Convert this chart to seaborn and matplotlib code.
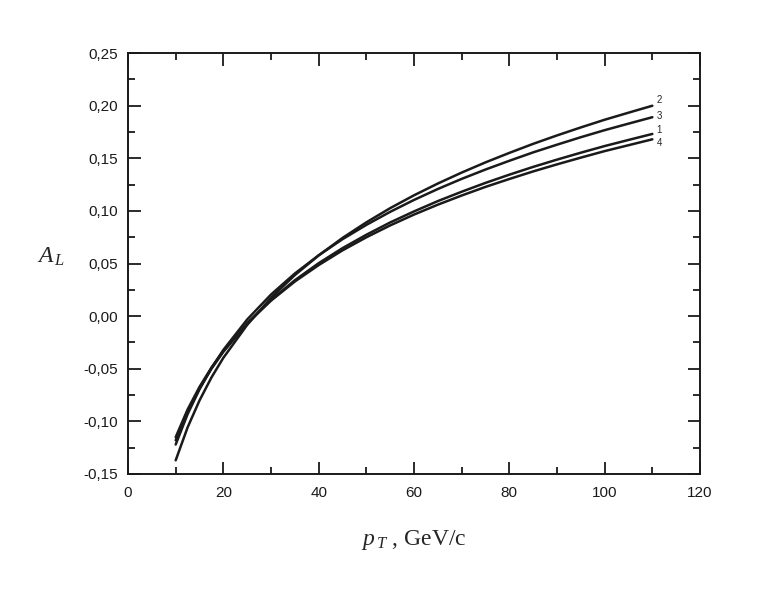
import numpy as np
import pandas as pd
import matplotlib
matplotlib.use("Agg")
import matplotlib.pyplot as plt
from matplotlib.ticker import MultipleLocator, FuncFormatter
import seaborn as sns

# transverse momentum points, GeV/c
pt = [10, 12.5, 15, 17.5, 20, 25, 30, 35, 40, 45, 50, 55, 60, 65, 70, 75, 80, 85, 90, 95, 100, 105, 110]

# asymmetry A_L for the four curves
curve_1 = [-0.118, -0.0909, -0.0688, -0.0500, -0.0339, -0.0068, 0.0154, 0.0341, 0.0503, 0.0646, 0.0773,
           0.0890, 0.0995, 0.1093, 0.1182, 0.1266, 0.1344, 0.1418, 0.1487, 0.1553, 0.1616, 0.1674, 0.1731]
curve_2 = [-0.137, -0.1057, -0.0801, -0.0583, -0.0396, -0.0083, 0.0174, 0.0390, 0.0577, 0.0743, 0.0891,
           0.1026, 0.1148, 0.1260, 0.1364, 0.1461, 0.1551, 0.1637, 0.1717, 0.1793, 0.1866, 0.1933, 0.1999]
curve_3 = [-0.122, -0.0931, -0.0695, -0.0494, -0.0321, -0.0032, 0.0205, 0.0405, 0.0578, 0.0731, 0.0867,
           0.0991, 0.1104, 0.1208, 0.1304, 0.1393, 0.1476, 0.1556, 0.1629, 0.1700, 0.1767, 0.1829, 0.1890]
curve_4 = [-0.115, -0.0887, -0.0672, -0.0489, -0.0332, -0.0069, 0.0147, 0.0329, 0.0485, 0.0625, 0.0749,
           0.0862, 0.0965, 0.1059, 0.1146, 0.1228, 0.1303, 0.1375, 0.1442, 0.1506, 0.1568, 0.1624, 0.1680]

curve_names = ["1", "2", "3", "4"]
label_offsets = {"1": 3, "2": 4, "3": 1, "4": -3}  # points, vertical nudge of end labels

sns.set_style("ticks")
plt.rcParams["font.family"] = ["Liberation Sans", "DejaVu Sans"]
plt.rcParams["mathtext.fontset"] = "custom"
plt.rcParams["mathtext.rm"] = "Liberation Serif"
plt.rcParams["mathtext.it"] = "Liberation Serif:italic"

df = pd.concat([
    pd.DataFrame({"pt": pt, "A": vals, "curve": name})
    for name, vals in zip(curve_names, [curve_1, curve_2, curve_3, curve_4])
])

fig = plt.figure(figsize=(7.58, 5.99), dpi=100)
ax = fig.add_axes([0.1689, 0.2087, 0.9235 - 0.1689, 0.9115 - 0.2087])

sns.lineplot(data=df, x="pt", y="A", hue="curve",
             palette={n: "#1a1a1a" for n in curve_names},
             linewidth=1.8, legend=False, ax=ax)

for name, vals in zip(curve_names, [curve_1, curve_2, curve_3, curve_4]):
    ax.annotate(name, xy=(pt[-1], vals[-1]), xytext=(3, label_offsets[name]),
                textcoords="offset points", fontsize=7, va="center", ha="left")

ax.set_xlim(0, 120)
ax.set_ylim(-0.15, 0.25)
ax.xaxis.set_major_locator(MultipleLocator(20))
ax.xaxis.set_minor_locator(MultipleLocator(10))
ax.yaxis.set_major_locator(MultipleLocator(0.05))
ax.yaxis.set_minor_locator(MultipleLocator(0.025))
ax.yaxis.set_major_formatter(FuncFormatter(lambda v, p: f"{v:.2f}".replace(".", ",").replace("-0,00", "0,00")))
ax.xaxis.set_major_formatter(FuncFormatter(lambda v, p: f"{v:.0f}"))

ax.tick_params(which="both", direction="in", top=True, right=True, width=1.3,
               labelsize=11, colors="#1a1a1a")
ax.tick_params(axis="y", pad=7)
ax.tick_params(axis="x", pad=9)
ax.tick_params(which="major", length=9)
ax.tick_params(which="minor", length=5)
for s in ax.spines.values():
    s.set_linewidth(1.4)
    s.set_color("#1a1a1a")

ax.set_xlabel(r"$p_{\,T}$ , GeV/c", fontsize=17, family="Liberation Serif", labelpad=20)
ax.set_ylabel(r"$A_{\,L}$", fontsize=17, rotation=0)
ax.yaxis.set_label_coords(-0.135, 0.49)

fig.savefig("out.png", dpi=100)
